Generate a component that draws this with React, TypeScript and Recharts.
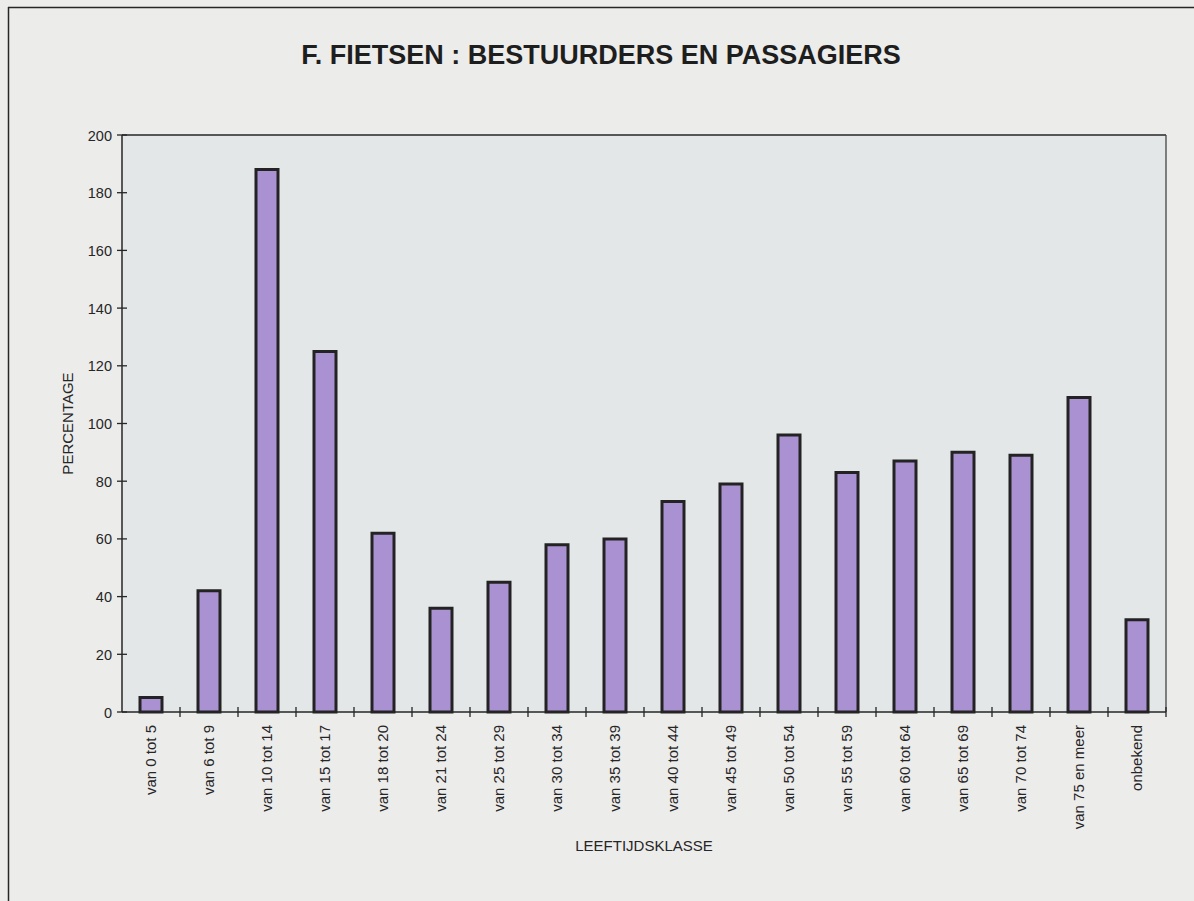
import React from 'react'
import { BarChart, Bar, XAxis, YAxis, CartesianGrid, ReferenceLine } from 'recharts'

// leeftijdsklassen en waarden
const categories = [
  'van 0 tot 5',
  'van 6 tot 9',
  'van 10 tot 14',
  'van 15 tot 17',
  'van 18 tot 20',
  'van 21 tot 24',
  'van 25 tot 29',
  'van 30 tot 34',
  'van 35 tot 39',
  'van 40 tot 44',
  'van 45 tot 49',
  'van 50 tot 54',
  'van 55 tot 59',
  'van 60 tot 64',
  'van 65 tot 69',
  'van 70 tot 74',
  'van 75 en meer',
  'onbekend'
]
const percentages = [5, 42, 188, 125, 62, 36, 45, 58, 60, 73, 79, 96, 83, 87, 90, 89, 109, 32]
const yTicks = [0, 20, 40, 60, 80, 100, 120, 140, 160, 180, 200]

const TITLE = 'F. FIETSEN : BESTUURDERS EN PASSAGIERS'
const X_TITLE = 'LEEFTIJDSKLASSE'
const Y_TITLE = 'PERCENTAGE'

const W = 1194
const H = 901
const MARGIN = { top: 135, right: 27, bottom: 69, left: 62 }
const Y_AXIS_W = 60
const X_AXIS_H = 120
const PLOT_LEFT = MARGIN.left + Y_AXIS_W
const PLOT_W = W - PLOT_LEFT - MARGIN.right - 1
const PLOT_BOTTOM = H - MARGIN.bottom - X_AXIS_H
const BAND = PLOT_W / categories.length

const FONT = '"Liberation Sans", Arial, Helvetica, sans-serif'
const INK = '#262626'

const data = categories.map((klasse, i) => ({ klasse, pct: percentages[i] }))

// tick on the category boundary + rotated label under the axis
const XTick = ({ x, y, payload }: any) => (
  <g>
    <line x1={x + BAND / 2} x2={x + BAND / 2} y1={y - 5} y2={y + 5} stroke={INK} strokeWidth={1.3} />
    <text
      transform={`translate(${x},${y + 13}) rotate(-90)`}
      textAnchor="end"
      dy="0.35em"
      fontSize={15}
      fontFamily={FONT}
      fill={INK}
    >
      {payload.value}
    </text>
  </g>
)

const YTick = ({ x, y, payload }: any) => (
  <g>
    <line x1={x - 5} x2={x + 5} y1={y} y2={y} stroke={INK} strokeWidth={1.3} />
    <text x={x - 10} y={y} dy={5.5} textAnchor="end" fontSize={14.5} fontFamily={FONT} fill={INK}>
      {payload.value}
    </text>
  </g>
)

export default function App() {
  const plotMidX = PLOT_LEFT + PLOT_W / 2
  const plotMidY = (MARGIN.top + PLOT_BOTTOM) / 2
  return (
    <div
      style={{
        position: 'fixed',
        left: 0,
        top: 0,
        width: W,
        height: H,
        overflow: 'hidden',
        background: '#ececeb'
      }}
    >
      <svg width={W} height={H} style={{ position: 'absolute', left: 0, top: 0 }}>
        <line x1={8} x2={W} y1={7.5} y2={7.5} stroke={INK} strokeWidth={1.5} />
        <line x1={8.5} x2={8.5} y1={7} y2={H} stroke={INK} strokeWidth={1.5} />
        <text x={601} y={64} textAnchor="middle" fontSize={27} fontWeight="bold" fontFamily={FONT} fill="#1e1e1e">
          {TITLE}
        </text>
        <text x={plotMidX} y={851} textAnchor="middle" fontSize={15} fontFamily={FONT} fill={INK}>
          {X_TITLE}
        </text>
        <text
          transform={`translate(${68},${plotMidY}) rotate(-90)`}
          textAnchor="middle"
          dy="0.36em"
          fontSize={15}
          fontFamily={FONT}
          fill={INK}
        >
          {Y_TITLE}
        </text>
      </svg>
      <div style={{ position: 'absolute', left: 0, top: 0 }}>
        <BarChart width={W} height={H} data={data} margin={MARGIN}>
          <CartesianGrid horizontal={false} vertical={false} fill="#e3e7e8" stroke="none" />
          <XAxis
            dataKey="klasse"
            height={X_AXIS_H}
            interval={0}
            tickLine={false}
            tickSize={0}
            tickMargin={0}
            axisLine={{ stroke: INK, strokeWidth: 1.5 }}
            tick={(props: any) => <XTick {...props} />}
          />
          <YAxis
            width={Y_AXIS_W}
            domain={[0, 200]}
            ticks={yTicks}
            interval={0}
            tickLine={false}
            tickSize={0}
            tickMargin={0}
            axisLine={{ stroke: INK, strokeWidth: 1.5 }}
            tick={(props: any) => <YTick {...props} />}
          />
          <YAxis
            yAxisId="right"
            orientation="right"
            width={1}
            domain={[0, 200]}
            tick={false}
            tickLine={false}
            axisLine={{ stroke: '#444', strokeWidth: 1.3 }}
          />
          <ReferenceLine y={200} stroke={INK} strokeWidth={1.3} />
          <Bar
            dataKey="pct"
            barSize={22}
            fill="#aa91d2"
            stroke="#232323"
            strokeWidth={3}
            isAnimationActive={false}
          />
        </BarChart>
      </div>
    </div>
  )
}
